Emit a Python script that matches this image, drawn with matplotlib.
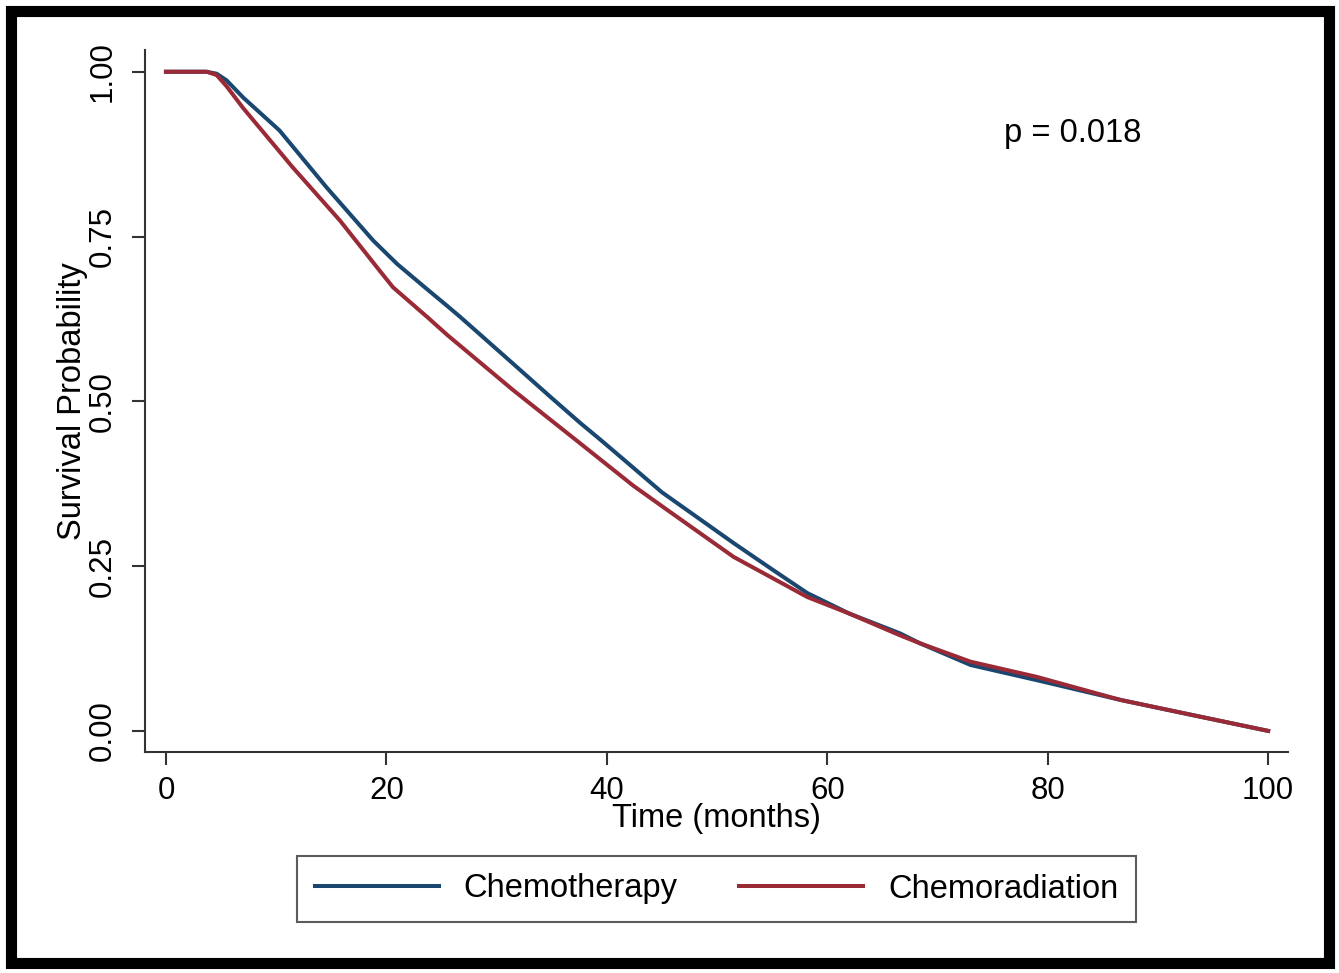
import matplotlib
matplotlib.use("Agg")
import matplotlib.pyplot as plt
from matplotlib.patches import Rectangle

plt.rcParams["font.family"] = ["Liberation Sans", "DejaVu Sans"]

BLUE = "#1a476f"
RED = "#9a2a36"
AXC = "#333333"

# Kaplan-Meier curves (months, survival probability)
chemo_t = [0, 3.7, 4.6, 5.5, 7.0, 10.3, 14.6, 18.8, 21, 23.7, 25.5, 26.7, 31.5, 35,
           37.6, 39.4, 42, 45, 51.5, 55, 58.2, 62, 66.6, 68.4, 73, 79, 86.6, 92, 100]
chemo_s = [1.0, 1.0, 0.997, 0.987, 0.961, 0.911, 0.824, 0.744, 0.708, 0.670, 0.645,
           0.628, 0.557, 0.505, 0.467, 0.442, 0.405, 0.362, 0.285, 0.245, 0.209,
           0.178, 0.148, 0.133, 0.100, 0.077, 0.047, 0.028, 0.0]

crt_t = [0, 3.7, 4.6, 5.5, 7.0, 11.5, 15.8, 19.4, 20.6, 23.7, 25.5, 31.5, 37.6, 40,
         42.4, 45.5, 51.5, 58.2, 62, 66.6, 68.4, 73, 79, 86.6, 92, 100]
crt_s = [1.0, 1.0, 0.995, 0.978, 0.945, 0.855, 0.774, 0.698, 0.673, 0.628, 0.601,
         0.517, 0.436, 0.404, 0.372, 0.335, 0.264, 0.203, 0.178, 0.145, 0.133,
         0.105, 0.082, 0.047, 0.028, 0.0]

x_ticks = [0, 20, 40, 60, 80, 100]
y_ticks = [0.0, 0.25, 0.5, 0.75, 1.0]
y_tick_labels = ["0.00", "0.25", "0.50", "0.75", "1.00"]

W, H = 1339, 973
fig = plt.figure(figsize=(W / 100, H / 100), dpi=100)
ax = fig.add_axes([145 / W, 1 - 752 / H, 1143 / W, 702 / H])

ax.plot(chemo_t, chemo_s, color=BLUE, lw=2.9, label="Chemotherapy")
ax.plot(crt_t, crt_s, color=RED, lw=2.9, label="Chemoradiation")

ax.set_xlim(-1.9, 101.8)
ax.set_ylim(-0.032, 1.033)
ax.set_xticks(x_ticks)
ax.set_yticks(y_ticks)
ax.set_yticklabels(y_tick_labels)
plt.setp(ax.get_yticklabels(), rotation=90, va="center")

for s in ["top", "right"]:
    ax.spines[s].set_visible(False)
for s in ["left", "bottom"]:
    ax.spines[s].set_color(AXC)
    ax.spines[s].set_linewidth(1.5)
ax.tick_params(axis="both", direction="out", length=9.5, width=1.5, color=AXC,
               labelsize=22.5, labelcolor="black")
ax.tick_params(axis="x", pad=8)
ax.tick_params(axis="y", pad=10)

ax.set_xlabel("Time (months)", fontsize=23.5)
ax.set_ylabel("Survival Probability", fontsize=23.5)
ax.xaxis.set_label_coords(0.5, -0.073)
ax.yaxis.set_label_coords(-0.05, 0.5)

ax.text(76, 0.906, "p = 0.018", fontsize=23.5, ha="left", va="center")

leg = fig.legend(loc="center", bbox_to_anchor=(716.5 / W, 1 - 889 / H), ncol=2,
                 fontsize=23.5, frameon=True, fancybox=False, handlelength=3.8,
                 handletextpad=0.75, columnspacing=1.9, borderpad=0.55,
                 borderaxespad=0)
leg.get_frame().set_edgecolor(AXC)
leg.get_frame().set_linewidth(1.5)

# thick black frame around the whole figure
fig.patches.append(Rectangle((10.5 / W, 10.5 / H), 1 - 21 / W, 1 - 21 / H,
                             transform=fig.transFigure, fill=False,
                             edgecolor="black", lw=8))

fig.savefig("out.png", dpi=100)
